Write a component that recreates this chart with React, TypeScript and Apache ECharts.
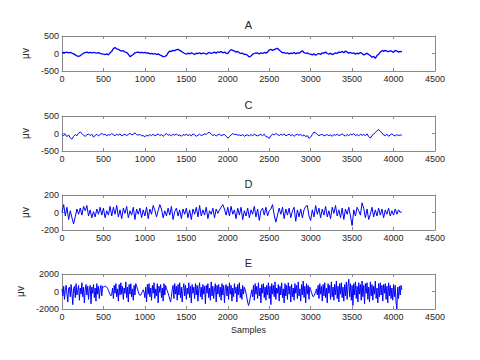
import React, { useEffect, useRef } from "react";
import * as echarts from "echarts";

const titles = ["A", "C", "D", "E"];
const yMins = [-500, -500, -200, -2000];
const yMaxs = [500, 500, 200, 2000];
const yIntervals = [500, 500, 200, 2000];
const xTicks = { min: 0, max: 4500, interval: 500 };
const sampleSteps = [20, 20, 20, 10];

const seriesA = [
  10, 30, 25, 40, 20, 35, 10, -10, -40, -70, -85, -60, -30, 10, 25, 40, 20, 30, 15, 35, 20, 10, 25, 5, -10,
  -20, -30, -10, -40, 20, 60, 140, 170, 130, 120, 90, 70, 80, 40, 30, -20, -90, -60, -30, 20, 30, 40, 25, 35, 20,
  30, 10, 20, -10, 5, -20, 0, -30, -10, -40, -60, -90, -80, -60, 20, 70, 60, 90, 80, 110, 120, 90, 60, 30, 0,
  -20, 10, -10, 20, 0, -30, 10, -5, 20, -10, 15, 0, -20, 10, 30, 0, 20, 40, 10, 50, 30, 60, 20, 40, 10,
  0, 60, 110, 90, 70, 40, 60, 20, 0, 10, -30, -20, -60, -100, -70, -20, 0, 20, 10, -10, 20, 0, 30, 10, 40,
  100, 120, 90, 110, 130, 150, 100, 60, 20, 30, 0, 20, -10, 10, 0, 30, -10, 20, 10, 40, 80, 30, 0, 20, -10,
  -20, -40, -10, -50, -20, 0, -30, 20, 10, 40, 0, -20, 10, -30, -10, 20, 0, 40, 30, 60, 20, 70, 40, 10, 30,
  0, 20, -20, 10, -10, 30, 0, -40, -20, 10, -30, -60, -110, -80, -140, -60, -20, 40, 80, 60, 90, 70, 50, 80, 60,
  30, 90, 70, 40, 60, 50,
];

const seriesC = [
  -30, -60, -20, -90, -40, -120, -160, -80, -30, -60, 10, 40, 0, -50, -80, -40, -10, -60, -20, -100, -60, -20, -70, -30, 10,
  -40, -20, -70, -30, -50, 0, -40, -60, -20, -50, -10, -70, -40, -20, -60, -30, 10, -40, -20, 20, -30, -50, -20, -70, -60,
  -90, -50, -70, -30, -60, -20, -70, -40, -10, -60, -30, -80, -40, 0, -50, -30, -70, -20, -50, -10, -60, -40, -80, -30, -50,
  -20, -60, -30, -70, -10, -40, -80, -50, -20, -60, -40, -10, -30, 20, 30, -20, -60, -30, -70, -40, -20, -60, -40, -30, -80,
  -130, -90, -40, 0, -30, -20, -50, -40, -60, -30, -80, -50, -40, -70, -30, -60, -20, -50, -70, -40, -30, -60, -20, -90, -100,
  -140, -60, -20, -40, 0, -30, -60, -20, -50, -10, -70, -40, -20, -60, -30, -80, -40, -20, -50, -30, -70, -40, -90, -60, -140,
  -100, -30, 40, 20, -30, -60, -40, -20, -70, -50, -30, -60, -40, -80, -30, -50, -20, -60, -40, -10, -50, -70, -30, -60, -20,
  -40, 0, -60, -30, -70, -20, -50, -30, -60, -10, -90, -130, -60, -20, 30, 80, 110, 60, 20, -40, -60, -20, -80, -40, -10,
  -50, -70, -30, -60, -40, -50,
];

const seriesD = [
  0, 90, -40, 60, -80, 20, -60, -130, -50, 40, -20, 50, -30, 70, 20, 80, -40, 30, -60, 10, -50, 40, -20, 60, -30,
  50, -60, 20, -30, 70, -40, 60, -20, 80, -50, 30, -70, 50, -10, 70, -60, 20, -30, 60, -80, 40, -20, 50, -60, 30,
  -40, 60, -70, 40, -20, 80, 30, -50, 20, 90, 40, -60, 20, -40, 50, -30, 70, -80, 10, 50, -40, 30, -70, 40, -20,
  50, -60, 30, -80, 40, -20, 60, -50, 80, -40, 30, -30, 60, -70, 20, -20, 50, -60, 40, -10, 30, 60, 90, 40, -30,
  60, -40, 70, -20, 30, -70, 50, -30, 60, -80, 20, -40, 50, -60, 30, -20, 70, -50, 40, -90, 20, 50, -30, 60, -40,
  20, 40, 90, -30, -110, -30, 50, -20, 60, -70, 40, -30, 50, -60, 20, 60, -100, 30, -50, 40, -60, 30, 70, 80, -40,
  -90, 30, -50, 80, -20, 50, -60, 40, -30, 70, -50, 20, -70, 60, -10, 80, -40, 30, -60, 50, -80, 40, -20, 60, -40,
  -150, 30, -40, 60, 20, -30, 110, 50, -60, 40, -80, -20, 60, -50, 30, -40, 50, -30, 40, -60, 30, -20, 50, -40, 20,
  -30, 40, -20, 30, 0, 10,
];

const seriesE = [
  300, -500, 600, -900, 200, 700, -300, -1200, 400, 500,
  -600, 800, -200, -1500, 300, 600, -700, 900, -400, 100,
  700, -1000, 400, -300, 1000, -600, 500, -1300, 200, 800,
  -400, 600, -900, 300, 700, -1400, 500, -200, 800, -700,
  400, -1100, 900, -300, 600, -800, 300, 700, -500, 600,
  500, 550, 600, 580, 500, 350, 150, -100, -350, -500,
  -300, 400, -800, 700, -200, 900, -600, 300, -1100, 800,
  -400, 1000, -300, 600, -900, 400, -200, 1100, -700, 500,
  -1200, 800, -300, 900, -600, 300, -1000, 700, -400, 900,
  600, 300, 0, -300, -450, -400, -200, 0, 200, -100,
  -700, 500, -1200, 800, -300, 900, -600, 400, -1000, 700,
  -200, 1000, -800, 300, -500, 900, -1300, 600, -100, 800,
  -700, 400, -1100, 900, -400, 700, 300, 100, -200, -500,
  -900, -1200, -600, 200, 700, -800, 900, -300, 600, -1000,
  800, -400, 1000, -700, 500, -1200, 300, 900, -500, 700,
  -900, 400, -300, 1000, -700, 600, -1300, 800, -200, 500,
  -800, 900, -400, 700, -1100, 300, 1000, -600, 500, -900,
  800, -300, 600, -1400, 700, -200, 900, -700, 400, -1000,
  1100, -500, 600, -800, 300, 900, -1200, 700, -300, 800,
  -600, 500, -1000, 900, -400, 700, -1300, 400, 800, -500,
  600, -900, 1000, -300, 700, -1100, 400, -600, 900, -200,
  500, -1200, 800, -400, 1000, -700, 300, -900, 700, -300,
  500, 200, -200, -700, -1200, -1600, -1300, -800, -300, 200,
  -600, 700, -1000, 900, -300, 600, -800, 1000, -500, 400,
  -1300, 800, -200, 900, -700, 500, -1000, 700, -400, 1000,
  -800, 600, -1500, 900, -300, 700, -600, 1100, -900, 400,
  -200, 800, -1100, 600, -400, 1000, -700, 300, -1300, 900,
  -500, 700, -900, 1000, -300, 600, -1200, 800, -600, 400,
  -1000, 900, -200, 700, -800, 1100, -500, 300, -1100, 800,
  -400, 1200, -700, 600, -1300, 900, -300, 700, -900, 500,
  200, -100, -400, -600, -500, -300, 0, 300, -400, 700,
  -800, 900, -300, 600, -1100, 800, -500, 1000, -700, 400,
  -1300, 900, -200, 700, -900, 1100, -600, 500, -1000, 800,
  -400, 1200, -800, 600, -1200, 900, -300, 1000, -700, 500,
  -1100, 800, -500, 1100, -900, 600, 1400, -600, 900, -1000,
  700, -1600, 900, -400, 1100, -800, 600, -1200, 1000, -300,
  800, -1000, 1200, -600, 700, -1400, 900, -200, 1000, -900,
  500, -1200, 1100, -500, 800, -1000, 600, -300, 1200, -800,
  400, -1300, 900, -600, 1000, -400, 700, -1100, 800, -200,
  900, -900, 600, -1300, 1000, -500, 700, -800, 400, -1000,
  800, -600, 700, -1200, -2000, 500, -800, 600, -400, 700, 200,
];

const allSeries = [seriesA, seriesC, seriesD, seriesE];
const lineWidths = [1.3, 1, 1, 1];
const gridTops = [36, 116, 195, 274];
const gridHeight = 35;
const plotLeft = 62;
const plotRight = 435;

export default function App() {
  const ref = useRef<HTMLDivElement>(null);
  useEffect(() => {
    if (!ref.current) return;
    const chart = echarts.init(ref.current, null, { renderer: "svg" });
    const font = "'Liberation Sans', Arial, sans-serif";
    const axisColor = "#8a8a8a";
    const labelColor = "#262626";
    const fmt = (v: number) => String(v);
    const grids: any[] = [];
    const xAxes: any[] = [];
    const yAxes: any[] = [];
    const series: any[] = [];
    const graphics: any[] = [];
    allSeries.forEach((vals, k) => {
      grids.push({
        left: plotLeft,
        width: plotRight - plotLeft,
        top: gridTops[k],
        height: gridHeight,
        show: false,
      });
      const baseX = {
        type: "value",
        gridIndex: k,
        min: xTicks.min,
        max: xTicks.max,
        interval: xTicks.interval,
        axisLine: { show: true, onZero: false, lineStyle: { color: axisColor, width: 1 } },
        axisTick: { show: true, inside: true, length: 3, lineStyle: { color: axisColor } },
        splitLine: { show: false },
      };
      xAxes.push({
        ...baseX,
        position: "bottom",
        axisLabel: { show: true, fontSize: 9, color: labelColor, margin: 3, fontFamily: font, formatter: fmt },
        name: k === 3 ? "Samples" : "",
        nameLocation: "middle",
        nameGap: 16,
        nameTextStyle: { fontSize: 9, color: labelColor, fontFamily: font },
      });
      xAxes.push({ ...baseX, position: "top", axisLabel: { show: false } });
      const baseY = {
        type: "value",
        gridIndex: k,
        min: yMins[k],
        max: yMaxs[k],
        interval: yIntervals[k],
        axisLine: { show: true, onZero: false, lineStyle: { color: axisColor, width: 1 } },
        axisTick: { show: true, inside: true, length: 3, lineStyle: { color: axisColor } },
        splitLine: { show: false },
      };
      yAxes.push({
        ...baseY,
        position: "left",
        axisLabel: { show: true, fontSize: 9, color: labelColor, margin: 3, fontFamily: font, formatter: fmt },
        name: "μv",
        nameLocation: "middle",
        nameGap: 21,
        nameRotate: 90,
        nameTextStyle: { fontSize: 10, color: labelColor, fontFamily: font },
      });
      yAxes.push({ ...baseY, position: "right", axisLabel: { show: false } });
      const step = sampleSteps[k];
      series.push({
        type: "line",
        xAxisIndex: 2 * k,
        yAxisIndex: 2 * k,
        data: vals.map((v, i) => [i * step, v]),
        showSymbol: false,
        symbol: "none",
        lineStyle: { color: "#0000ff", width: lineWidths[k] },
        silent: true,
      });
      graphics.push({
        type: "text",
        x: (plotLeft + plotRight) / 2,
        y: gridTops[k] - 11,
        style: {
          text: titles[k],
          fontSize: 11,
          fontFamily: font,
          fill: labelColor,
          textAlign: "center",
          textVerticalAlign: "middle",
        },
      });
    });
    chart.setOption({
      animation: false,
      backgroundColor: "#ffffff",
      grid: grids,
      xAxis: xAxes,
      yAxis: yAxes,
      series,
      graphic: graphics,
    });
    return () => chart.dispose();
  }, []);
  return (
    <div
      ref={ref}
      style={{ position: "absolute", left: 0, top: 0, width: 480, height: 360, background: "#fff" }}
    />
  );
}
